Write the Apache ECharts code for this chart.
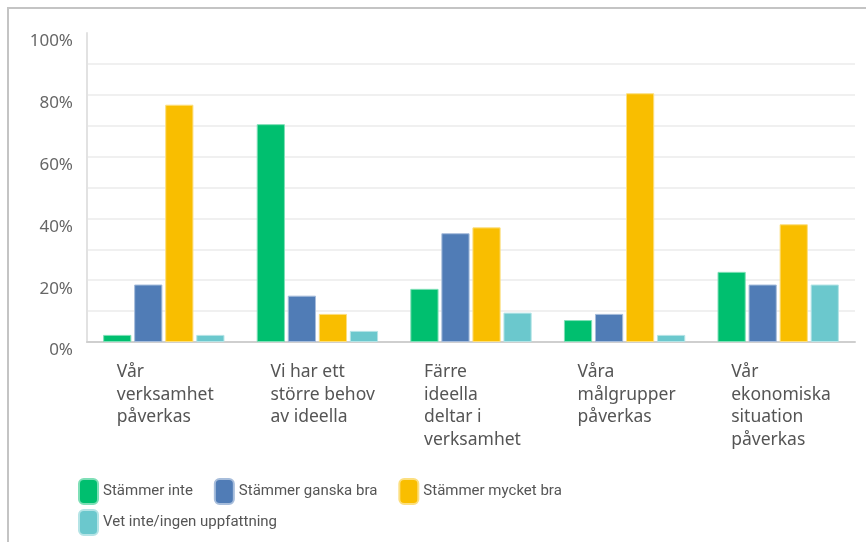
<!DOCTYPE html>
<html>
<head>
<meta charset="utf-8">
<script src="https://cdn.jsdelivr.net/npm/echarts@6/dist/echarts.min.js"></script>
<style>
html,body{margin:0;padding:0;background:#fff;}
#frame{position:absolute;left:7px;top:7px;width:880px;height:560px;border-left:2px solid #c4c4c4;border-top:2px solid #c4c4c4;}
#chart{position:absolute;left:0;top:0;width:866px;height:542px;}
</style>
</head>
<body>
<div id="frame"></div>
<div id="chart"></div>
<script>
const categories = [
  "Vår\nverksamhet\npåverkas",
  "Vi har ett\nstörre behov\nav ideella",
  "Färre\nideella\ndeltar i\nverksamhet",
  "Våra\nmålgrupper\npåverkas",
  "Vår\nekonomiska\nsituation\npåverkas"
];
const seriesNames = ["Stämmer inte", "Stämmer ganska bra", "Stämmer mycket bra", "Vet inte/ingen uppfattning"];
const stammerInte = [2.3, 70.5, 17.2, 7.1, 22.7];
const stammerGanskaBra = [18.6, 15.0, 35.2, 9.1, 18.6];
const stammerMycketBra = [76.8, 9.1, 37.1, 80.5, 38.1];
const vetInte = [2.3, 3.6, 9.5, 2.3, 18.6];
const yTickLabels = ["0%", "20%", "40%", "60%", "80%", "100%"];

const colors = ["#00BF6F", "#507CB6", "#F9BE00", "#6BC8CD"];
const borders = ["#7fdfb7", "#a7bddb", "#fcdf80", "#b5e4e6"];
const dataSets = [stammerInte, stammerGanskaBra, stammerMycketBra, vetInte];
const FONT = "Noto Sans";
const LEGEND_FONT = "Roboto";

const chart = echarts.init(document.getElementById('chart'));
const legendBase = {
  left: 78, orient: 'horizontal', padding: 0,
  itemWidth: 19, itemHeight: 25, itemGap: 21, icon: 'roundRect',
  textStyle: {fontFamily: LEGEND_FONT, fontSize: 15, color: '#555'}
};
chart.setOption({
  animation: false,
  color: colors,
  grid: {left: 87, right: 11, top: 33, bottom: 200, containLabel: false},
  legend: [
    Object.assign({}, legendBase, {data: seriesNames.slice(0, 3), top: 478}),
    Object.assign({}, legendBase, {data: seriesNames.slice(3), top: 509})
  ],
  xAxis: {
    type: 'category',
    data: categories,
    axisLine: {show: true, lineStyle: {color: '#cfcfcf', width: 2}},
    axisTick: {show: false},
    axisLabel: {
      interval: 0,
      margin: 19,
      align: 'center',
      formatter: function (v) {
        return v.split('\n').map(function (l) { return '{a|' + l + '}'; }).join('\n');
      },
      rich: {
        a: {width: 94, align: 'left', fontFamily: FONT, fontSize: 17.5, lineHeight: 22.5, color: '#555'}
      }
    }
  },
  yAxis: {
    type: 'value',
    min: 0, max: 100, interval: 10,
    axisLine: {show: true, lineStyle: {color: '#e2e2e2', width: 2}},
    axisTick: {show: false},
    splitLine: {show: true, showMinLine: false, showMaxLine: false, lineStyle: {color: '#f0f0f0', width: 2}},
    axisLabel: {
      margin: 14,
      verticalAlign: 'top',
      fontFamily: FONT, fontSize: 17, color: '#666',
      formatter: function (v) {
        const i = Math.round(v / 20);
        return (v % 20 === 0) ? yTickLabels[i] : '';
      }
    }
  },
  series: dataSets.map(function (d, i) {
    return {
      name: seriesNames[i],
      type: 'bar',
      data: d,
      barCategoryGap: '21%',
      barGap: '10%',
      itemStyle: {color: colors[i], borderColor: borders[i], borderWidth: 1}
    };
  })
});
</script>
</body>
</html>
